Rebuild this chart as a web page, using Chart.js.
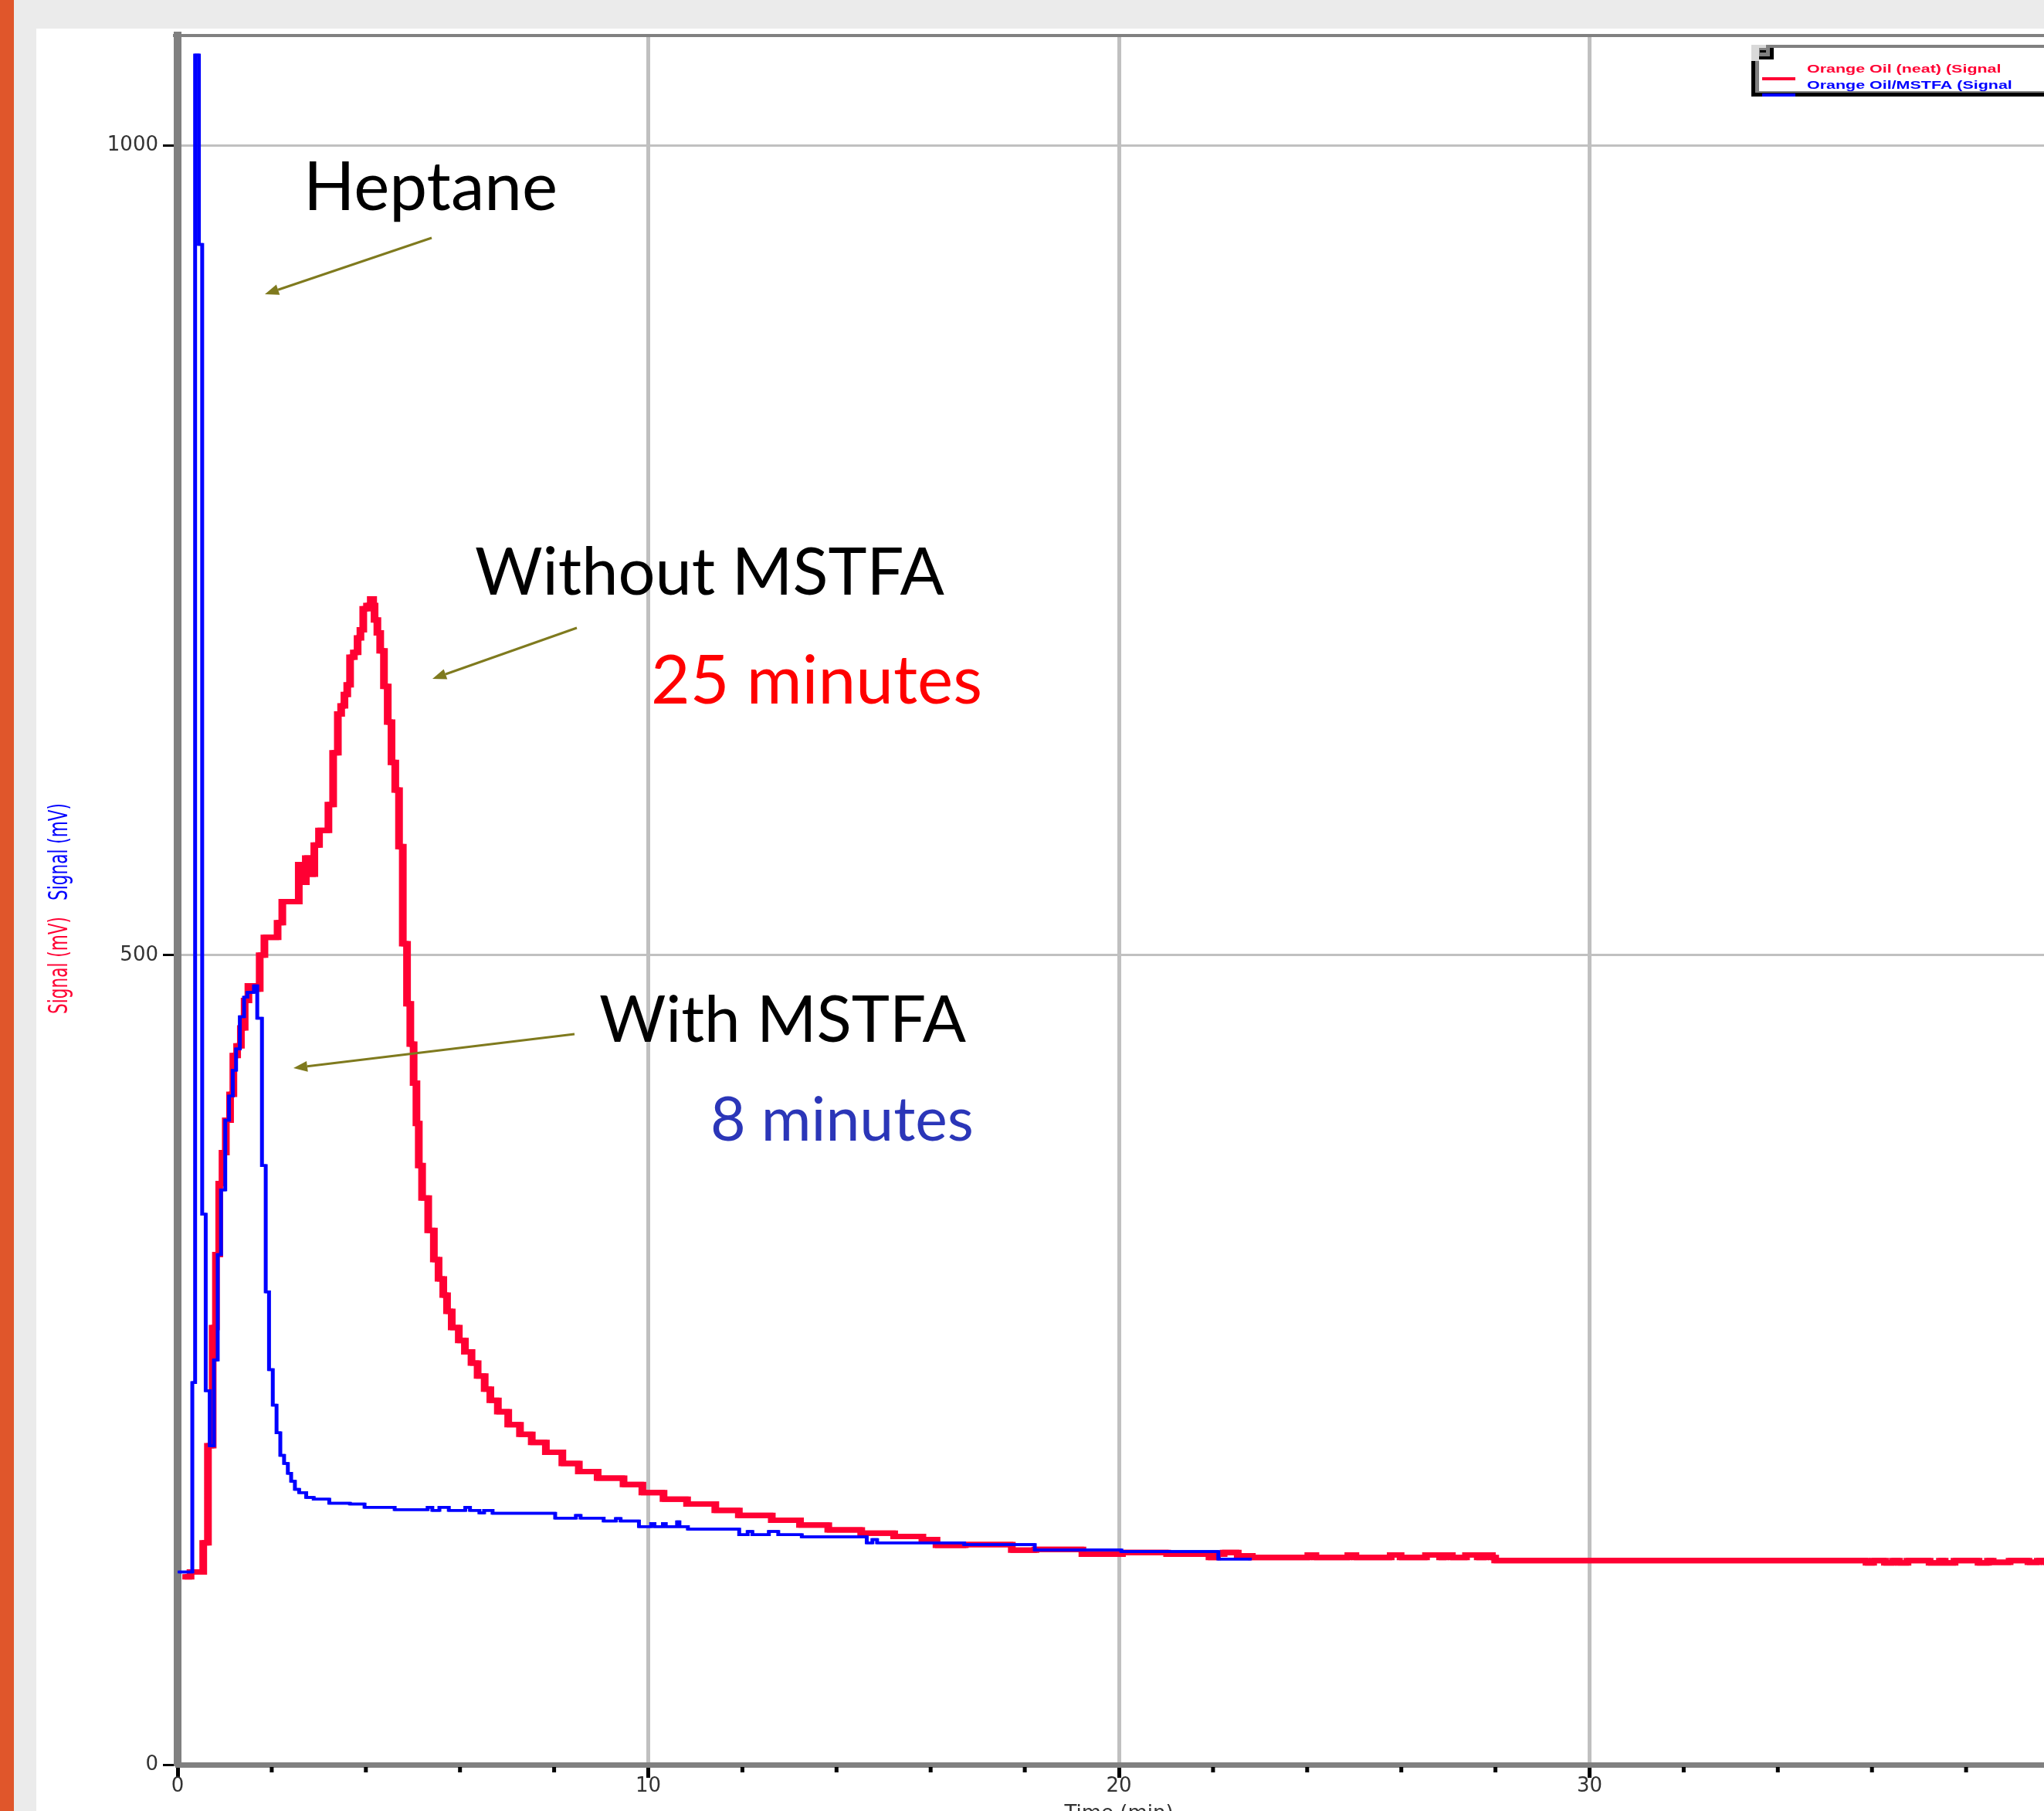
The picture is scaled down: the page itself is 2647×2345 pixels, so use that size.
<!DOCTYPE html>
<html><head><meta charset="utf-8">
<script src="https://cdn.jsdelivr.net/npm/chart.js@4.4.1/dist/chart.umd.min.js"></script>
<style>
html,body{margin:0;padding:0;width:2647px;height:2345px;overflow:hidden;background:#EBEBEB;}
#bar{position:absolute;left:0;top:0;width:18px;height:2345px;background:#E0562B;}
#panel{position:absolute;left:47px;top:37px;width:2600px;height:2308px;background:#FFFFFF;}
#wrap{position:absolute;left:0;top:0;width:2647px;height:2345px;overflow:hidden;}
#c{position:absolute;left:0;top:0;}
</style></head><body>
<div id="bar"></div><div id="panel"></div>
<div id="wrap"><canvas id="c" width="2720" height="2345"></canvas></div>
<script>
// ---------------- data ----------------
const seriesNames = ['Orange Oil (neat) (Signal', 'Orange Oil/MSTFA (Signal'];
const xMajorTicks = [0, 10, 20, 30, 40];
const xMinorTicks = [2, 4, 6, 8, 12, 14, 16, 18, 22, 24, 26, 28, 32, 34, 36, 38];
const yTicks = [0, 500, 1000];
const xTitle = 'Time (min)';
const yTitle = 'Signal (mV)';

// Without MSTFA (red): time (min) at which the stepped signal takes each value
const redTime = [0.10,0.25,0.52,0.62,0.72,0.79,0.86,0.93,1.00,1.09,1.16,1.24,1.32,1.40,1.48,1.60,1.72,1.82,2.10,2.20,2.55,2.62,2.70,2.78,2.88,2.98,3.18,3.28,3.38,3.45,3.52,3.58,3.64,3.72,3.80,3.86,3.92,4.00,4.08,4.13,4.16,4.22,4.28,4.36,4.44,4.52,4.60,4.68,4.76,4.85,4.92,4.99,5.05,5.10,5.17,5.30,5.42,5.52,5.62,5.70,5.80,5.95,6.08,6.22,6.35,6.50,6.62,6.78,7.00,7.25,7.50,7.80,8.15,8.50,8.90,9.45,9.85,10.30,10.80,11.40,11.90,12.60,13.20,13.80,14.50,15.20,15.80,16.10,16.70,17.70,18.20,19.20,20.04,21.00,21.90,22.06,22.20,22.50,22.80,24.00,24.15,24.85,25.00,25.75,25.96,26.50,26.80,26.90,27.05,27.35,27.60,27.75,27.90,27.97,35.86,36.00,36.25,36.42,36.55,36.73,37.20,37.42,37.52,37.73,38.24,38.44,38.54,38.90,39.30,39.50,39.65,40.00];
const redSignal = [116,119,137,197,270,315,359,378,398,414,438,444,455,472,481,479,500,511,520,533,556,545,560,550,568,577,593,625,649,654,661,667,684,687,696,701,714,716,720,716,707,699,688,666,644,619,602,567,507,470,445,421,396,370,350,330,312,300,290,280,270,262,255,248,240,232,225,218,210,204,199,193,186,181,177,173,168,164,161,157,154,151,148,145,143,141,139,135.5,136,132.5,133,130,131,130,128,130,131,129,128,129.5,128,129.5,128,129.5,128,129.5,128,129.5,128,129.5,128,129.5,128,126,124.6,126,124.6,126,124.6,126,124.6,126,124.6,126,124.6,126,125,126,125,126,125,125];

// With MSTFA (blue)
const blueTime = [0.00,0.30,0.36,0.44,0.51,0.585,0.67,0.76,0.84,0.91,1.00,1.08,1.16,1.23,1.31,1.40,1.47,1.61,1.68,1.78,1.86,1.93,2.01,2.09,2.17,2.25,2.33,2.40,2.48,2.57,2.72,2.88,3.21,3.65,3.96,4.60,5.30,5.40,5.55,5.75,6.10,6.20,6.40,6.50,6.68,8.01,8.45,8.55,9.04,9.30,9.40,9.79,10.05,10.12,10.30,10.36,10.60,10.65,10.83,11.92,12.10,12.20,12.55,12.75,13.25,14.63,14.75,14.85,16.70,18.20,20.04,22.10,22.80];
const blueSignal = [119,236,1056,939,340,231,197,250,315,355,398,413,429,442,462,474,477,481,461,370,292,244,222,205,191,186,180,175,170,168,165,164,161.5,161,159,157.5,159,157,159,157,159,157,155.5,157,155.3,152.3,154,152.3,150.5,152,150.5,147,149,147,149,147,150,147,145.5,142,144,142,144,142,140.7,137,139,137,136,132.6,131.7,127,127];

// ---------------- layout / style ----------------
const C_RED = '#FF0033', C_BLUE = '#0000FF';
const yMax = 1068;
const notes = [
  {text:'Heptane',       color:'#000000', x:393, base:272,  w:329},
  {text:'Without MSTFA', color:'#000000', x:615, base:770,  w:608},
  {text:'25 minutes',    color:'#FF0000', x:843, base:911,  w:429},
  {text:'With MSTFA',    color:'#000000', x:776, base:1349, w:475},
  {text:'8 minutes',     color:'#2B36B8', x:920, base:1477, w:341}
];
const arrows = [
  {x1:559, y1:308,  x2:343, y2:381},
  {x1:747, y1:813,  x2:560, y2:879},
  {x1:744, y1:1339, x2:380, y2:1383}
];
const widen = {0: 3, 1: 1.5};

function fitSize(ctx, text, family, weight, target){
  ctx.font = weight + ' 100px ' + family;
  return 100 * target / ctx.measureText(text).width;
}

const extras = {
  id: 'extras',
  afterDatasetDraw(chart, args){
    const dx = widen[args.index];
    if (!dx) return;
    const ctx = chart.ctx, a = chart.chartArea;
    ctx.save();
    ctx.beginPath(); ctx.rect(a.left, a.top, a.right - a.left, a.bottom - a.top); ctx.clip();
    ctx.translate(dx, 0);
    args.meta.controller.draw();
    ctx.restore();
  },
  afterDraw(chart){
    const ctx = chart.ctx, a = chart.chartArea, xs = chart.scales.x;
    ctx.save();
    // top frame line
    ctx.fillStyle = '#808080';
    ctx.fillRect(a.left - 6, a.top - 2, chart.width, 4);
    // minor ticks
    ctx.fillStyle = '#000';
    xMinorTicks.forEach(v => { const px = xs.getPixelForValue(v); ctx.fillRect(px - 2.5, a.bottom + 3, 5, 7); });

    // y-axis titles (two colours)
    const vt = (txt, color, cx, cy) => {
      ctx.save();
      const s = fitSize(ctx, txt, '"DejaVu Sans"', 'normal', 126);
      ctx.translate(cx, cy); ctx.rotate(-Math.PI/2); ctx.scale(1, 1.55);
      ctx.font = s + 'px "DejaVu Sans"';
      ctx.textAlign = 'center'; ctx.textBaseline = 'middle'; ctx.fillStyle = color;
      ctx.fillText(txt, 0, 0);
      ctx.restore();
    };
    vt(yTitle, chart.data.datasets[0].borderColor, 78, 1250);
    vt(yTitle, chart.data.datasets[1].borderColor, 78, 1103);

    // legend box
    const W = chart.width;
    ctx.fillStyle = '#FFFFFF'; ctx.fillRect(2268, 58, W - 2268, 67);
    ctx.fillStyle = '#808080'; ctx.fillRect(2287, 58, W - 2287, 4);
    ctx.fillStyle = '#D9D9D9'; ctx.fillRect(2268, 58, 10, 21); ctx.fillRect(2278, 58, 9, 4);
    ctx.fillStyle = '#000000'; ctx.fillRect(2278, 62, 19, 15);
    ctx.fillStyle = '#808080'; ctx.fillRect(2278, 62, 14, 11);
    ctx.fillStyle = '#000000'; ctx.fillRect(2279, 65, 8, 3);
    ctx.fillStyle = '#000000'; ctx.fillRect(2268, 79, 5, 46);
    ctx.fillStyle = '#808080'; ctx.fillRect(2273, 79, 5, 41);
    ctx.fillStyle = '#808080'; ctx.fillRect(2273, 118, W - 2273, 2);
    ctx.fillStyle = '#000000'; ctx.fillRect(2268, 120, W - 2268, 5);
    const ds = chart.data.datasets;
    const leg = [{y:90, ly:100}, {y:111, ly:121}];
    ds.forEach((d, i) => {
      ctx.fillStyle = d.borderColor;
      ctx.fillRect(2282, leg[i].ly, 43, 4);
      ctx.save();
      ctx.translate(2340, leg[i].y); ctx.scale(1.43, 1);
      ctx.font = 'bold 15px "Liberation Sans"'; ctx.textBaseline = 'middle';
      ctx.fillText(d.label, 0, 0);
      ctx.restore();
    });

    // annotations
    notes.forEach(n => {
      const s = fitSize(ctx, n.text, 'Lato', 'normal', n.w);
      ctx.font = s + 'px Lato'; ctx.fillStyle = n.color; ctx.textBaseline = 'alphabetic'; ctx.textAlign = 'left';
      ctx.fillText(n.text, n.x, n.base);
    });
    ctx.strokeStyle = '#7F7A1E'; ctx.fillStyle = '#7F7A1E'; ctx.lineWidth = 3;
    arrows.forEach(r => {
      const ang = Math.atan2(r.y2 - r.y1, r.x2 - r.x1), L = 18, H = 7;
      const bx = r.x2 - L * Math.cos(ang), by = r.y2 - L * Math.sin(ang);
      ctx.beginPath(); ctx.moveTo(r.x1, r.y1); ctx.lineTo(bx, by); ctx.stroke();
      ctx.beginPath();
      ctx.moveTo(r.x2, r.y2);
      ctx.lineTo(bx + H * Math.sin(ang), by - H * Math.cos(ang));
      ctx.lineTo(bx - H * Math.sin(ang), by + H * Math.cos(ang));
      ctx.closePath(); ctx.fill();
    });
    ctx.restore();
  }
};

const toPts = (t, v) => t.map((x, i) => ({x: x, y: v[i]}));

new Chart(document.getElementById('c'), {
  type: 'line',
  data: {
    datasets: [
      {label: seriesNames[0], data: toPts(redTime, redSignal), borderColor: C_RED, borderWidth: 7,
       stepped: true, pointRadius: 0, fill: false, order: 1, borderJoinStyle: 'miter', borderCapStyle: 'butt'},
      {label: seriesNames[1], data: toPts(blueTime, blueSignal), borderColor: C_BLUE, borderWidth: 3.5,
       stepped: true, pointRadius: 0, fill: false, order: 0, borderJoinStyle: 'miter', borderCapStyle: 'butt'}
    ]
  },
  options: {
    responsive: false, animation: false, devicePixelRatio: 1,
    layout: {padding: {left: 0, top: 46, right: 52, bottom: 0}},
    plugins: {legend: {display: false}, tooltip: {enabled: false}},
    scales: {
      x: {
        type: 'linear', position: 'bottom', min: 0, max: 40,
        afterBuildTicks: s => { s.ticks = xMajorTicks.map(v => ({value: v})); },
        afterFit: s => { s.height = 60; },
        ticks: {callback: v => String(v), font: {family: 'DejaVu Sans', size: 26}, color: '#333333',
                padding: -4, maxRotation: 0, autoSkip: false},
        grid: {color: c => (c.tick && c.tick.value > 0 && c.tick.value < 40) ? '#C0C0C0' : 'rgba(0,0,0,0)',
               lineWidth: 5, tickColor: '#000000', tickWidth: 5, tickLength: 17, drawTicks: true},
        border: {display: true, color: '#808080', width: 7},
        title: {display: true, text: xTitle, font: {family: 'DejaVu Sans', size: 26}, color: '#333333',
                padding: {top: 0, bottom: -20}}
      },
      y: {
        type: 'linear', min: 0, max: yMax,
        afterBuildTicks: s => { s.ticks = yTicks.map(v => ({value: v})); },
        afterFit: s => { s.width = 230; },
        ticks: {callback: v => String(v), font: {family: 'DejaVu Sans', size: 26}, color: '#333333', padding: 6},
        grid: {color: c => (c.tick && c.tick.value > 0) ? '#C0C0C0' : 'rgba(0,0,0,0)',
               lineWidth: 3, tickColor: '#000000', tickWidth: 3, tickLength: 19, drawTicks: true},
        border: {display: true, color: '#808080', width: 10}
      }
    }
  },
  plugins: [extras]
});
</script></body></html>
